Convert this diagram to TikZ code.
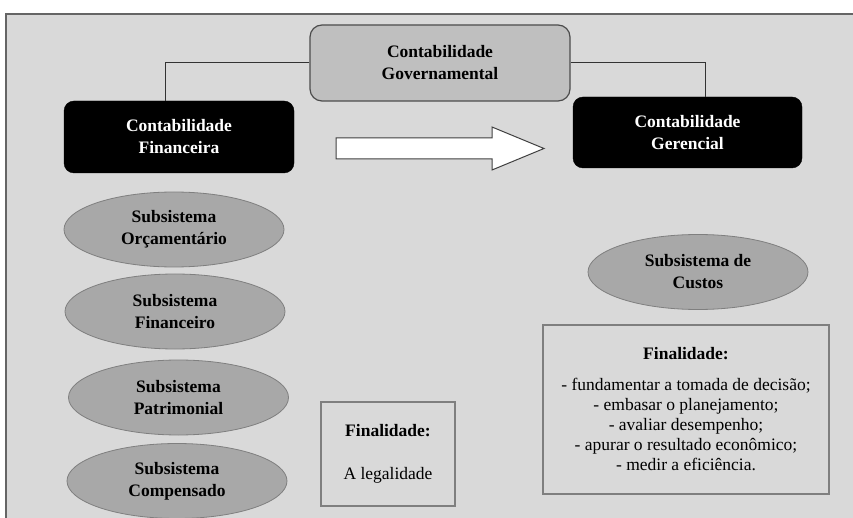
\documentclass[tikz,border=0pt]{standalone}
\usepackage{fontspec}
\setmainfont{Liberation Serif}
\usetikzlibrary{shapes.geometric, arrows.meta, positioning}

\definecolor{fundo}{HTML}{D9D9D9}
\definecolor{cinzagov}{HTML}{BFBFBF}
\definecolor{cinzasub}{HTML}{A8A8A8}
\definecolor{borda}{HTML}{7F7F7F}

\tikzset{
  govbox/.style={draw=black!70, fill=cinzagov, rounded corners=12pt, line width=1.2pt,
    minimum width=260pt, minimum height=76pt, align=center,
    font=\fontsize{17.5}{22}\selectfont\bfseries},
  blackbox/.style={draw=black, fill=black, text=white, rounded corners=10pt,
    minimum width=230pt, minimum height=72pt, align=center,
    font=\fontsize{17.5}{22}\selectfont\bfseries},
  subsis/.style={ellipse, draw=borda, fill=cinzasub, line width=0.8pt, inner sep=0pt,
    minimum width=220pt, minimum height=75pt, align=center,
    font=\fontsize{17.5}{22}\selectfont\bfseries},
  finbox/.style={draw=borda, line width=1.2pt, align=center,
    font=\fontsize{17.5}{20}\selectfont},
  link/.style={draw=black!80, line width=1pt}
}

\begin{document}
\begin{tikzpicture}[x=1pt, y=-1pt]
        \useasboundingbox (0,0) rectangle (853,518);
        % painel de fundo
        \fill[fundo] (6,14) rectangle (853,518);
        \draw[borda!80!black, line width=1.5pt] (6,518) -- (6,14) -- (853,14);
        % contabilidade governamental
        \node[govbox] (gov) at (440,63) {Contabilidade\\Governamental};
        % contabilidade financeira e gerencial
        \node[blackbox] (fin) at (179,137) {Contabilidade\\Financeira};
        \node[blackbox, minimum width=229pt, minimum height=71pt] (ger) at (687.5,132.5) {Contabilidade\\Gerencial};
        % ligações
        \draw[link] (gov.west) -| ([xshift=-14pt]fin.north);
        \draw[link] (gov.east) -| ([xshift=17.5pt]ger.north);
        % seta
        \draw[black!75, fill=white, line width=1pt] (336,138) -- (492,138) -- (492,127) -- (544,148.5)
          -- (492,170) -- (492,159) -- (336,159) -- cycle;
        % subsistemas
        \node[subsis] (orc) at (174,229.5) {Subsistema\\Orçamentário};
        \node[subsis] (finsub) at (175,311.5) {Subsistema\\Financeiro};
        \node[subsis] (pat) at (178.5,397.5) {Subsistema\\Patrimonial};
        \node[subsis] (comp) at (177,481) {Subsistema\\Compensado};
        \node[subsis] (custos) at (698,272) {Subsistema de\\Custos};
        % finalidades
        \node[finbox, minimum width=134pt, minimum height=104pt] (legal) at (388,454)
          {\textbf{Finalidade:}\\[23pt]A legalidade};
        \node[finbox, minimum width=286pt, minimum height=169pt] (gerfin) at (686,409.5)
          {\textbf{Finalidade:}\\[11pt]- fundamentar a tomada de decisão;\\- embasar o planejamento;\\- avaliar desempenho;\\- apurar o resultado econômico;\\- medir a eficiência.};
    \end{tikzpicture}
\end{document}
